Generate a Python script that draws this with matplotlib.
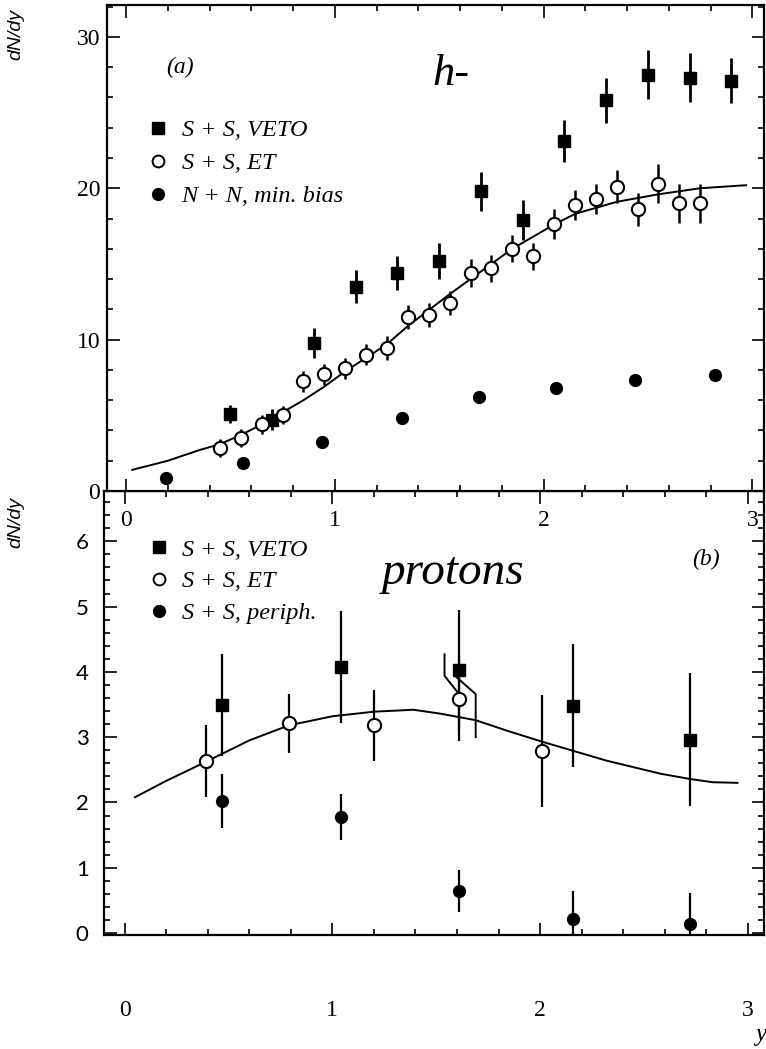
import matplotlib
matplotlib.use("Agg")
import matplotlib.pyplot as plt
from matplotlib.lines import Line2D
from matplotlib.ticker import MultipleLocator

# ---- panel (a): negative hadrons ----
veto_a_x = [0.5, 0.7, 0.9, 1.1, 1.3, 1.5, 1.7, 1.9, 2.1, 2.3, 2.5, 2.7, 2.9]
veto_a_y = [5.1, 4.7, 9.8, 13.5, 14.4, 15.2, 19.8, 17.9, 23.1, 25.8, 27.5, 27.3, 27.1]
veto_a_err = [0.6, 0.7, 1.0, 1.1, 1.1, 1.2, 1.3, 1.3, 1.4, 1.5, 1.6, 1.6, 1.5]

et_a_x = [0.45, 0.55, 0.65, 0.75, 0.85, 0.95, 1.05, 1.15, 1.25, 1.35, 1.45, 1.55,
          1.65, 1.75, 1.85, 1.95, 2.05, 2.15, 2.25, 2.35, 2.45, 2.55, 2.65, 2.75]
et_a_y = [2.86, 3.5, 4.4, 5.0, 7.25, 7.7, 8.1, 9.0, 9.45, 11.5, 11.65, 12.4,
          14.4, 14.7, 16.0, 15.5, 17.65, 18.9, 19.3, 20.1, 18.6, 20.3, 19.0, 19.0]
et_a_err = [0.6, 0.6, 0.6, 0.6, 0.7, 0.7, 0.7, 0.7, 0.8, 0.8, 0.8, 0.8,
            0.9, 0.9, 0.9, 0.9, 1.0, 1.0, 1.0, 1.1, 1.1, 1.3, 1.3, 1.3]

nn_x = [0.19, 0.56, 0.94, 1.32, 1.69, 2.06, 2.44, 2.82]
nn_y = [0.88, 1.82, 3.25, 4.85, 6.2, 6.8, 7.36, 7.65]

fit_a_x = [0.03, 0.2, 0.35, 0.45, 0.55, 0.65, 0.75, 0.85, 0.95, 1.05, 1.15, 1.25,
           1.35, 1.55, 1.75, 1.85, 2.05, 2.15, 2.35, 2.55, 2.75, 2.97]
fit_a_y = [1.4, 2.0, 2.7, 3.1, 3.7, 4.4, 5.2, 6.0, 6.9, 7.9, 8.8, 9.7,
           10.9, 13.0, 15.0, 16.0, 17.6, 18.3, 19.1, 19.6, 20.0, 20.2]

# ---- panel (b): protons ----
et_b_x = [0.39, 0.79, 1.2, 1.61, 2.01]
et_b_y = [2.63, 3.21, 3.18, 3.59, 2.79]
et_b_err = [0.55, 0.45, 0.54, 0.65, 0.86]

veto_b_x = [0.47, 1.04, 1.61, 2.16, 2.72]
veto_b_y = [3.49, 4.07, 4.03, 3.48, 2.96]
veto_b_err = [0.78, 0.86, 0.92, 0.94, 1.02]

per_b_x = [0.47, 1.04, 1.61, 2.16, 2.72]
per_b_y = [2.02, 1.78, 0.645, 0.22, 0.14]
per_b_err = [0.41, 0.35, 0.32, 0.43, 0.48]

fit_b_x = [0.05, 0.2, 0.39, 0.6, 0.79, 1.0, 1.2, 1.39, 1.52, 1.69, 1.84, 2.01,
           2.16, 2.32, 2.58, 2.72, 2.83, 2.95]
fit_b_y = [2.08, 2.33, 2.62, 2.95, 3.18, 3.32, 3.39, 3.42, 3.36, 3.26, 3.1, 2.93,
           2.79, 2.64, 2.44, 2.36, 2.31, 2.30]

# shifted-point bracket near y = 1.6
bracket_l_x = [1.54, 1.54, 1.60]
bracket_l_y = [4.27, 3.94, 3.70]
bracket_r_x = [1.59, 1.69, 1.69]
bracket_r_y = [3.94, 3.66, 3.00]

SERIF = "Liberation Serif"
SANS = "Liberation Sans"
plt.rcParams["font.family"] = [SERIF, "DejaVu Serif"]

fig = plt.figure(figsize=(7.66, 10.49), dpi=100)
ax_b = fig.add_axes([0.1358, 0.1087, 0.8622, 0.4232])
ax_a = fig.add_axes([0.1397, 0.5319, 0.8583, 0.4633])


def frame(ax):
    for s in ax.spines.values():
        s.set_linewidth(1.6)
    ax.tick_params(which="both", direction="in", top=True, right=True,
                   width=1.2, colors="black", labelsize=17, labelfontfamily=SERIF)
    ax.tick_params(which="major", length=9)
    ax.tick_params(which="minor", length=4.5)
    ax.xaxis.set_major_locator(MultipleLocator(1))
    ax.xaxis.set_minor_locator(MultipleLocator(0.2))


legend_font = {"family": SERIF, "style": "italic", "size": 17.5}

# panel (a)
frame(ax_a)
ax_a.set_xlim(-0.091, 3.058)
ax_a.set_ylim(0, 32.1)
ax_a.yaxis.set_major_locator(MultipleLocator(10))
ax_a.yaxis.set_minor_locator(MultipleLocator(2))
ax_a.tick_params(axis="y", which="major", pad=5)
ax_a.tick_params(axis="x", which="major", pad=14)

ax_a.plot(fit_a_x, fit_a_y, color="black", lw=1.4, zorder=2)
ax_a.errorbar(veto_a_x, veto_a_y, yerr=veto_a_err, fmt="s", color="black",
              ms=9, elinewidth=2.0, capsize=0, zorder=3)
ax_a.errorbar(et_a_x, et_a_y, yerr=et_a_err, fmt="o", color="black", mfc="white",
              mec="black", mew=1.5, ms=9.5, elinewidth=1.8, capsize=0, zorder=3)
ax_a.plot(nn_x, nn_y, "o", color="black", ms=8.5, zorder=3)

handles_a = [Line2D([], [], ls="", marker="s", color="black", ms=8),
             Line2D([], [], ls="", marker="o", mfc="white", mec="black", mew=1.4, ms=8.5),
             Line2D([], [], ls="", marker="o", color="black", ms=8.5)]
ax_a.legend(handles_a, ["S + S, VETO", "S + S, ET", "N + N, min. bias"],
            loc="upper left", bbox_to_anchor=(0.045, 0.79), frameon=False,
            borderpad=0, handlelength=0.8, handletextpad=0.55, labelspacing=0.45,
            prop=legend_font)

ax_a.text(0.111, 0.872, "(a)", transform=ax_a.transAxes, ha="center", va="center",
          style="italic", fontsize=17)
ax_a.text(0.523, 0.858, "h-", transform=ax_a.transAxes, ha="center", va="center",
          style="italic", fontsize=32)
fig.text(0.021, 0.967, "dN/dy", rotation=90, ha="center", va="center",
         family=SANS, style="italic", fontsize=14)

# panel (b)
frame(ax_b)
ax_b.set_xlim(-0.099, 3.08)
ax_b.set_ylim(-0.03, 6.77)
ax_b.yaxis.set_major_locator(MultipleLocator(1))
ax_b.yaxis.set_minor_locator(MultipleLocator(0.2))
ax_b.tick_params(axis="y", which="major", pad=11, labelfontfamily="Lato", labelsize=16)
ax_b.tick_params(axis="x", which="major", pad=47)

ax_b.plot(fit_b_x, fit_b_y, color="black", lw=1.4, zorder=2)
ax_b.plot(bracket_l_x, bracket_l_y, color="black", lw=1.4, zorder=2)
ax_b.plot(bracket_r_x, bracket_r_y, color="black", lw=1.4, zorder=2)
ax_b.errorbar(veto_b_x, veto_b_y, yerr=veto_b_err, fmt="s", color="black",
              ms=8.5, elinewidth=1.6, capsize=0, zorder=3)
ax_b.errorbar(et_b_x, et_b_y, yerr=et_b_err, fmt="o", color="black", mfc="white",
              mec="black", mew=1.5, ms=9.5, elinewidth=1.6, capsize=0, zorder=4)
ax_b.errorbar(per_b_x, per_b_y, yerr=per_b_err, fmt="o", color="black",
              ms=8.5, elinewidth=1.6, capsize=0, zorder=3)

handles_b = [Line2D([], [], ls="", marker="s", color="black", ms=8),
             Line2D([], [], ls="", marker="o", mfc="white", mec="black", mew=1.4, ms=8.5),
             Line2D([], [], ls="", marker="o", color="black", ms=8.5)]
ax_b.legend(handles_b, ["S + S, VETO", "S + S, ET", "S + S, periph."],
            loc="upper left", bbox_to_anchor=(0.05, 0.92), frameon=False,
            borderpad=0, handlelength=0.8, handletextpad=0.55, labelspacing=0.4,
            prop=legend_font)

ax_b.text(0.529, 0.815, "protons", transform=ax_b.transAxes, ha="center", va="center",
          style="italic", fontsize=34)
ax_b.text(0.911, 0.845, "(b)", transform=ax_b.transAxes, ha="center", va="center",
          style="italic", fontsize=17)
fig.text(0.021, 0.502, "dN/dy", rotation=90, ha="center", va="center",
         family=SANS, style="italic", fontsize=14)

fig.text(0.993, 0.013, "y", ha="center", va="center", style="italic", fontsize=18)

fig.savefig("out.png", dpi=100)
